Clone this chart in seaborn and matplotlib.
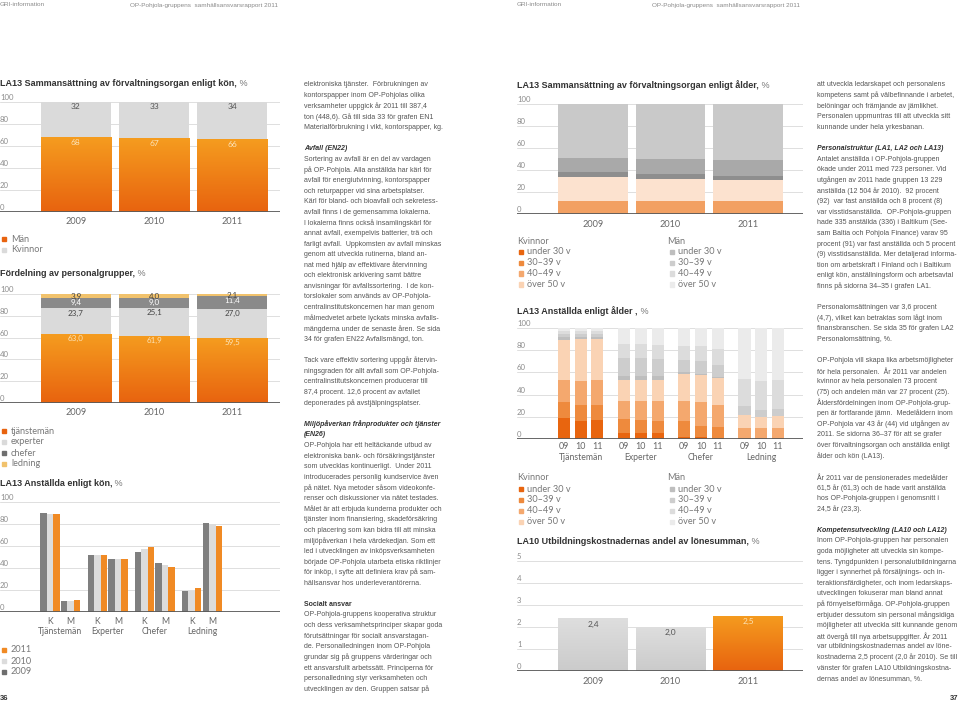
import numpy as np
import pandas as pd
import matplotlib
matplotlib.use('Agg')
import matplotlib.pyplot as plt
import seaborn as sns
from matplotlib.colors import LinearSegmentedColormap
from matplotlib.patches import Rectangle
from matplotlib.transforms import offset_copy

# ---------------- data ----------------
years = ['2009', '2010', '2011']
short_years = ['09', '10', '11']

# LA13 förvaltningsorgan enligt kön
board_men = [68, 67, 66]
board_women = [32, 33, 34]

# Fördelning av personalgrupper
staff_tjanstemen = [63.0, 61.9, 59.5]
staff_experter = [23.7, 25.1, 27.0]
staff_chefer = [9.4, 9.0, 11.4]
staff_ledning = [3.9, 4.0, 2.1]

# LA13 anställda enligt kön
groups = ['Tjänstemän', 'Experter', 'Chefer', 'Ledning']
women_2009 = [90, 52, 55, 19]
women_2010 = [89, 52, 57, 19]
women_2011 = [89, 52, 59, 22]
men_2009 = [10, 48, 45, 81]
men_2010 = [10, 48, 43, 80]
men_2011 = [11, 48, 41, 78]

# LA13 förvaltningsorgan enligt ålder
age_labels = ['under 30 v', '30–39 v', '40–49 v', 'över 50 v']
board_k_40 = [12, 12, 12]
board_k_50 = [22, 20, 19]
board_m_30 = [4, 4, 4]
board_m_40 = [13, 14, 14]
board_m_50 = [49, 50, 51]

# LA13 anställda enligt ålder (T09..T11, E09..E11, C09..C11, L09..L11)
emp_k_u30 = [19, 16, 17, 5, 5, 5, 2, 2, 1, 0, 0, 0]
emp_k_30 = [14, 15, 14, 13, 12, 11, 14, 10, 10, 1, 1, 1]
emp_k_40 = [20, 21, 22, 16, 17, 18, 18, 21, 20, 9, 9, 9]
emp_k_50 = [36, 38, 37, 19, 19, 19, 25, 25, 24, 12, 10, 11]
emp_m_u30 = [3, 2, 2, 4, 4, 4, 1, 1, 1, 0, 0, 0]
emp_m_30 = [3, 3, 3, 16, 16, 15, 11, 11, 11, 8, 6, 6]
emp_m_40 = [2, 2, 2, 13, 13, 13, 13, 14, 14, 24, 26, 26]
emp_m_50 = [3, 3, 3, 14, 14, 15, 16, 16, 19, 46, 48, 47]

# LA10 utbildningskostnader
training = [2.4, 2.0, 2.5]

# ---------------- style ----------------
sns.set_theme(style='white')
plt.rcParams['font.family'] = ['Lato', 'DejaVu Sans']
BODY = ['Liberation Sans Narrow', 'Liberation Sans', 'DejaVu Sans']
TITLE = ['Liberation Sans', 'DejaVu Sans']

ORANGE_TOP, ORANGE_BOT = '#F59C1F', '#E8630F'
ORANGE = '#F08A24'
LGRAY = '#DADADA'
DGRAY = '#8A8A8A'
LABEL_C = '#777777'
ON_ORANGE = '#FCE3B8'

K_COLS = ['#E8650F', '#EE8A3D', '#F4A86E', '#FAD3B4']
M_COLS = ['#BEBEBE', '#CDCDCD', '#DCDCDC', '#EBEBEB']

W, H = 960, 703
fig = plt.figure(figsize=(9.6, 7.03), dpi=100)


def ftext(x, y, s, **kw):
    kw.setdefault('va', 'center')
    return fig.text(x / W, 1 - y / H, s, **kw)


def new_ax(x0, x1, ytop, ybase):
    return fig.add_axes([x0 / W, 1 - ybase / H, (x1 - x0) / W, (ybase - ytop) / H])


def finish(ax, ymax, step, xlim):
    ax.set_xlim(xlim)
    ax.set_ylim(0, ymax)
    ax.set_xticks([])
    ax.set_yticks([])
    ax.set_xlabel('')
    ax.set_ylabel('')
    for s in ax.spines.values():
        s.set_visible(False)
    ax.patch.set_alpha(0)
    tr = offset_copy(ax.get_yaxis_transform(), fig=fig, y=1, units='dots')
    for v in np.arange(0, ymax + step / 2, step):
        if v > 0:
            ax.axhline(v, color='#DEDEDE', lw=0.7, zorder=0.5)
        ax.text(0, v, f'{v:g}', transform=tr, ha='left', va='bottom',
                fontsize=5.6, color='#8C8C8C', zorder=0.6)
    ax.axhline(0, color='#5A5A5A', lw=1.3, zorder=6)


def xlab(ax, x, dy, s, size=6.6, color='#666666'):
    h = ax.get_position().height * H
    ax.text(x, -dy / h, s, transform=ax.get_xaxis_transform(), ha='center',
            va='center', fontsize=size, color=color, clip_on=False)


def gradient(ax, bars, top, bot):
    cmap = LinearSegmentedColormap.from_list('g', [top, bot])
    grad = np.linspace(0, 1, 128).reshape(-1, 1)
    xl, yl = ax.get_xlim(), ax.get_ylim()
    for b in bars:
        x, y, w, h = b.get_x(), b.get_y(), b.get_width(), b.get_height()
        if h <= 0:
            continue
        im = ax.imshow(grad, cmap=cmap, extent=[x, x + w, y, y + h], origin='upper',
                       aspect='auto', zorder=b.get_zorder() + 0.01, interpolation='bilinear')
        im.set_clip_path(b)
    ax.set_xlim(xl)
    ax.set_ylim(yl)


def stacked(ax, x, segments, colors, width, native=False):
    cum = np.cumsum(np.array(segments, dtype=float), axis=0)
    bars = [None] * len(segments)
    for i in range(len(segments) - 1, -1, -1):
        n = len(ax.patches)
        sns.barplot(x=x, y=cum[i], color=colors[i], width=width, saturation=1,
                    native_scale=native, errorbar=None, linewidth=0, ax=ax)
        bars[i] = ax.patches[n:]
    return cum, bars


def legend_item(xs, y, color, label, xt=None):
    fig.patches.append(Rectangle((xs / W, 1 - (y + 2.2) / H), 4.4 / W, 4.4 / H,
                                 transform=fig.transFigure, color=color, figure=fig))
    ftext(xs + 8 if xt is None else xt, y, label, fontsize=6.6, color=LABEL_C)


def title(x, y, bold, rest=' %'):
    t = ftext(x, y, bold, fontsize=6.5, fontweight='bold', color='#333333', family=TITLE)
    bb = t.get_window_extent(renderer=fig.canvas.get_renderer())
    ftext(bb.x1, y, rest, fontsize=6.5, color='#777777', family=TITLE)


# ---------------- page headers ----------------
for x, s in [(0, 'GRI-information'), (130, 'OP-Pohjola-gruppens  samhällsansvarsrapport 2011'),
             (517, 'GRI-information'), (652, 'OP-Pohjola-gruppens  samhällsansvarsrapport 2011')]:
    ftext(x, 5, s, fontsize=4.6, color='#8A8A8A', family=BODY)
ftext(0, 699, '36', fontsize=5.5, fontweight='bold', color='#333333', family=TITLE)
ftext(958, 699, '37', fontsize=5.5, fontweight='bold', color='#333333', family=TITLE, ha='right')

# ---------------- chart 1 ----------------
title(0, 83, 'LA13 Sammansättning av förvaltningsorgan enligt kön,')
ax1 = new_ax(0, 280, 102, 212)
cum1, bars1 = stacked(ax1, years, [board_men, board_women], [ORANGE, LGRAY], 0.9)
finish(ax1, 100, 20, (-0.97, 2.61))
gradient(ax1, bars1[0], ORANGE_TOP, ORANGE_BOT)
for i in range(3):
    ax1.text(i, 95.5, str(board_women[i]), ha='center', va='center', fontsize=6, color='#555555', zorder=8)
    ax1.text(i, board_men[i] - 5, str(board_men[i]), ha='center', va='center', fontsize=6, color=ON_ORANGE, zorder=8)
    xlab(ax1, i, 10, years[i])
legend_item(2, 239, ORANGE_BOT, 'Män', 11)
legend_item(2, 250, LGRAY, 'Kvinnor', 11)

# ---------------- chart 2 ----------------
title(0, 274, 'Fördelning av personalgrupper,')
ax2 = new_ax(0, 280, 294, 403)
seg2 = [staff_tjanstemen, staff_experter, staff_chefer, staff_ledning]
cols2 = [ORANGE, LGRAY, DGRAY, '#F1C26C']
cum2, bars2 = stacked(ax2, years, seg2, cols2, 0.9)
finish(ax2, 100, 20, (-0.97, 2.61))
gradient(ax2, bars2[0], ORANGE_TOP, ORANGE_BOT)
txt_cols2 = [ON_ORANGE, '#444444', 'white', '#444444']
for i in range(3):
    for j in range(4):
        v = seg2[j][i]
        y = cum2[j][i] - min(4.2, v / 2)
        ax2.text(i, y, f'{v:.1f}'.replace('.', ','), ha='center', va='center',
                 fontsize=5.8, color=txt_cols2[j], zorder=8)
    xlab(ax2, i, 9.5, years[i])
for y, c, s in [(431, ORANGE_BOT, 'tjänstemän'), (442, LGRAY, 'experter'),
                (453, '#6E6E6E', 'chefer'), (464, '#F1C26C', 'ledning')]:
    legend_item(2, y, c, s, 11)

# ---------------- chart 3 ----------------
title(0, 483, 'LA13 Anställda enligt kön,')
ax3 = new_ax(0, 280, 502, 612)
k_pos = [0, 2.3, 4.6, 6.9]
rows = []
for yr, kv, mv in zip(years, [women_2009, women_2010, women_2011], [men_2009, men_2010, men_2011]):
    for p, k, m in zip(k_pos, kv, mv):
        rows.append({'pos': p, 'year': yr, 'share': k})
        rows.append({'pos': p + 1, 'year': yr, 'share': m})
df3 = pd.DataFrame(rows)
sns.barplot(data=df3, x='pos', y='share', hue='year', hue_order=years,
            palette=['#7F7F7F', '#DCDCDC', ORANGE], native_scale=True, width=0.95,
            saturation=1, errorbar=None, linewidth=0, legend=False, ax=ax3)
finish(ax3, 100, 20, (-2.44, 11.2))
for p, g in zip(k_pos, groups):
    xlab(ax3, p, 9, 'K', size=6.2)
    xlab(ax3, p + 1, 9, 'M', size=6.2)
    xlab(ax3, p + 0.5, 19, g, size=6.2)
legend_item(2, 650, ORANGE, '2011', 11)
legend_item(2, 661, '#DCDCDC', '2010', 11)
legend_item(2, 672, '#6E6E6E', '2009', 11)

# ---------------- chart 4 ----------------
title(517, 85, 'LA13 Sammansättning av förvaltningsorgan enligt ålder,')
ax4 = new_ax(517, 803, 104, 214)
seg4 = [board_k_40, board_k_50, board_m_30, board_m_40, board_m_50]
cols4 = ['#F2A062', '#FCE2CF', '#8E8E8E', '#A9A9A9', '#C9C9C9']
stacked(ax4, years, seg4, cols4, 0.9)
finish(ax4, 100, 20, (-0.98, 2.71))
for i in range(3):
    xlab(ax4, i, 10, years[i])
ftext(517, 241, 'Kvinnor', fontsize=6.6, color=LABEL_C)
ftext(667, 241, 'Män', fontsize=6.6, color=LABEL_C)
for k, lab in enumerate(age_labels):
    y = 252 + k * 10.8
    legend_item(519, y, K_COLS[k], lab, 527)
    legend_item(670, y, M_COLS[k], lab, 678)

# ---------------- chart 5 ----------------
title(517, 311, 'LA13 Anställda enligt ålder ,')
ax5 = new_ax(517, 803, 328, 439)
g_pos = [0, 3.6, 7.2, 10.8]
x5 = [g + j for g in g_pos for j in range(3)]
seg5 = [emp_k_u30, emp_k_30, emp_k_40, emp_k_50, emp_m_u30, emp_m_30, emp_m_40, emp_m_50]
stacked(ax5, x5, seg5, K_COLS + M_COLS, 0.72, native=True)
finish(ax5, 100, 20, (-2.81, 14.3))
for g, name in zip(g_pos, groups):
    for j in range(3):
        xlab(ax5, g + j, 7.5, short_years[j], size=6.4)
    xlab(ax5, g + 1, 18.5, name, size=6.2)
ftext(517, 478, 'Kvinnor', fontsize=6.6, color=LABEL_C)
ftext(667, 478, 'Män', fontsize=6.6, color=LABEL_C)
for k, lab in enumerate(age_labels):
    y = 489 + k * 10.9
    legend_item(519, y, K_COLS[k], lab, 527)
    legend_item(670, y, M_COLS[k], lab, 678)

# ---------------- chart 6 ----------------
title(517, 542, 'LA10 Utbildningskostnadernas andel av lönesumman,')
ax6 = new_ax(517, 803, 561, 671)
n0 = len(ax6.patches)
sns.barplot(x=years, y=training, hue=years, palette=['#D6D6D6', '#D6D6D6', ORANGE],
            width=0.9, saturation=1, errorbar=None, linewidth=0, legend=False, ax=ax6)
bars6 = sorted(ax6.patches[n0:], key=lambda b: b.get_x())
finish(ax6, 5, 1, (-0.98, 2.71))
gradient(ax6, bars6[:2], '#DEDEDE', '#CBCBCB')
gradient(ax6, bars6[2:], ORANGE_TOP, ORANGE_BOT)
for i in range(3):
    ax6.text(i, training[i] - 0.27, f'{training[i]:.1f}'.replace('.', ','), ha='center',
             va='center', fontsize=6, color=ON_ORANGE if i == 2 else '#555555', zorder=8)
    xlab(ax6, i, 10, years[i])

# ---------------- text columns ----------------
left_col = [
    ('elektroniska tjänster.  Förbrukningen av', ''),
    ('kontorspapper inom OP-Pohjolas olika', ''),
    ('verksamheter uppgick år 2011 till 387,4', ''),
    ('ton (448,6). Gå till sida 33 för grafen EN1', ''),
    ('Materialförbrukning i vikt, kontorspapper, kg.', ''),
    ('', ''),
    ('Avfall (EN22)', 'bi'),
    ('Sortering av avfall är en del av vardagen', ''),
    ('på OP-Pohjola. Alla anställda har kärl för', ''),
    ('avfall för energiutvinning, kontorspapper', ''),
    ('och returpapper vid sina arbetsplatser.', ''),
    ('Kärl för bland- och bioavfall och sekretess-', ''),
    ('avfall finns i de gemensamma lokalerna.', ''),
    ('I lokalerna finns också insamlingskärl för', ''),
    ('annat avfall, exempelvis batterier, trä och', ''),
    ('farligt avfall.  Uppkomsten av avfall minskas', ''),
    ('genom att utveckla rutinerna, bland an-', ''),
    ('nat med hjälp av effektivare återvinning', ''),
    ('och elektronisk arkivering samt bättre', ''),
    ('anvisningar för avfallssortering.  I de kon-', ''),
    ('torslokaler som används av OP-Pohjola-', ''),
    ('centralinstitutskoncernen har man genom', ''),
    ('målmedvetet arbete lyckats minska avfalls-', ''),
    ('mängderna under de senaste åren. Se sida', ''),
    ('34 för grafen EN22 Avfallsmängd, ton.', ''),
    ('', ''),
    ('Tack vare effektiv sortering uppgår återvin-', ''),
    ('ningsgraden för allt avfall som OP-Pohjola-', ''),
    ('centralinstitutskoncernen producerar till', ''),
    ('87,4 procent. 12,6 procent av avfallet', ''),
    ('deponerades på avstjälpningsplatser.', ''),
    ('', ''),
    ('Miljöpåverkan frånprodukter och tjänster', 'bi'),
    ('(EN26)', 'bi'),
    ('OP-Pohjola har ett heltäckande utbud av', ''),
    ('elektroniska bank- och försäkringstjänster', ''),
    ('som utvecklas kontinuerligt.  Under 2011', ''),
    ('introducerades personlig kundservice även', ''),
    ('på nätet. Nya metoder såsom videokonfe-', ''),
    ('renser och diskussioner via nätet testades.', ''),
    ('Målet är att erbjuda kunderna produkter och', ''),
    ('tjänster inom finansiering, skadeförsäkring', ''),
    ('och placering som kan bidra till att minska', ''),
    ('miljöpåverkan i hela värdekedjan. Som ett', ''),
    ('led i utvecklingen av inköpsverksamheten', ''),
    ('började OP-Pohjola utarbeta etiska riktlinjer', ''),
    ('för inköp, i syfte att definiera krav på sam-', ''),
    ('hällsansvar hos underleverantörerna.', ''),
    ('', ''),
    ('Socialt ansvar', 'b'),
    ('OP-Pohjola-gruppens kooperativa struktur', ''),
    ('och dess verksamhetsprinciper skapar goda', ''),
    ('förutsättningar för socialt ansvarstagan-', ''),
    ('de. Personalledningen inom OP-Pohjola', ''),
    ('grundar sig på gruppens värderingar och', ''),
    ('ett ansvarsfullt arbetssätt. Principerna för', ''),
    ('personalledning styr verksamheten och', ''),
    ('utvecklingen av den. Gruppen satsar på', ''),
]

right_col = [
    ('att utveckla ledarskapet och personalens', ''),
    ('kompetens samt på välbefinnande i arbetet,', ''),
    ('belöningar och främjande av jämlikhet.', ''),
    ('Personalen uppmuntras till att utveckla sitt', ''),
    ('kunnande under hela yrkesbanan.', ''),
    ('', ''),
    ('Personalstruktur (LA1, LA2 och LA13)', 'bi'),
    ('Antalet anställda i OP-Pohjola-gruppen', ''),
    ('ökade under 2011 med 723 personer. Vid', ''),
    ('utgången av 2011 hade gruppen 13 229', ''),
    ('anställda (12 504 år 2010).  92 procent', ''),
    ('(92)  var fast anställda och 8 procent (8)', ''),
    ('var visstidsanställda.  OP-Pohjola-gruppen', ''),
    ('hade 335 anställda (336) i Baltikum (See-', ''),
    ('sam Baltia och Pohjola Finance) varav 95', ''),
    ('procent (91) var fast anställda och 5 procent', ''),
    ('(9) visstidsanställda. Mer detaljerad informa-', ''),
    ('tion om arbetskraft i Finland och i Baltikum', ''),
    ('enligt kön, anställningsform och arbetsavtal', ''),
    ('finns på sidorna 34–35 i grafen LA1.', ''),
    ('', ''),
    ('Personalomsättningen var 3,6 procent', ''),
    ('(4,7), vilket kan betraktas som lågt inom', ''),
    ('finansbranschen. Se sida 35 för grafen LA2', ''),
    ('Personalomsättning, %.', ''),
    ('', ''),
    ('OP-Pohjola vill skapa lika arbetsmöjligheter', ''),
    ('för hela personalen.  År 2011 var andelen', ''),
    ('kvinnor av hela personalen 73 procent', ''),
    ('(75) och andelen män var 27 procent (25).', ''),
    ('Åldersfördelningen inom OP-Pohjola-grup-', ''),
    ('pen är fortfarande jämn.  Medelåldern inom', ''),
    ('OP-Pohjola var 43 år (44) vid utgången av', ''),
    ('2011. Se sidorna 36–37 för att se grafer', ''),
    ('över förvaltningsorgan och anställda enligt', ''),
    ('ålder och kön (LA13).', ''),
    ('', ''),
    ('År 2011 var de pensionerades medelålder', ''),
    ('61,5 år (61,3) och de hade varit anställda', ''),
    ('hos OP-Pohjola-gruppen i genomsnitt i', ''),
    ('24,5 år (23,3).', ''),
    ('', ''),
    ('Kompetensutveckling (LA10 och LA12)', 'bi'),
    ('Inom OP-Pohjola-gruppen har personalen', ''),
    ('goda möjligheter att utveckla sin kompe-', ''),
    ('tens. Tyngdpunkten i personalutbildningarna', ''),
    ('ligger i synnerhet på försäljnings- och in-', ''),
    ('teraktionsfärdigheter, och inom ledarskaps-', ''),
    ('utvecklingen fokuserar man bland annat', ''),
    ('på förnyelseförmåga. OP-Pohjola-gruppen', ''),
    ('erbjuder dessutom sin personal mångsidiga', ''),
    ('möjligheter att utveckla sitt kunnande genom', ''),
    ('att övergå till nya arbetsuppgifter. År 2011', ''),
    ('var utbildningskostnadernas andel av löne-', ''),
    ('kostnaderna 2,5 procent (2,0 år 2010). Se till', ''),
    ('vänster för grafen LA10 Utbildningskostna-', ''),
    ('dernas andel av lönesumman, %.', ''),
]


def column(x, lines, y0=85, dy=10.6):
    for i, (s, st) in enumerate(lines):
        if not s:
            continue
        kw = dict(fontsize=5.0, color='#555555', family=BODY)
        if 'b' in st:
            kw.update(fontweight='bold', color='#333333')
        if 'i' in st:
            kw.update(fontstyle='italic')
        ftext(x, y0 + i * dy, s, **kw)


column(304, left_col)
column(817, right_col)

fig.savefig('out.png', dpi=100)
